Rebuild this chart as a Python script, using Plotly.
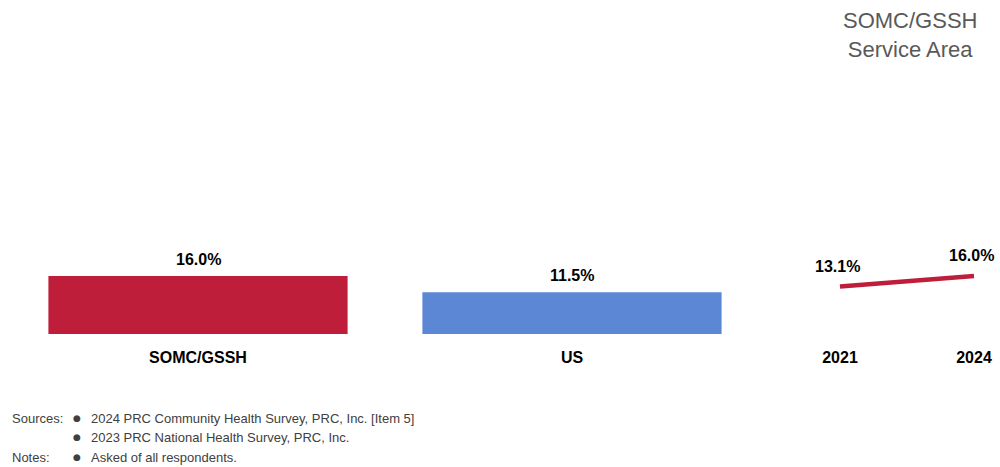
import plotly.graph_objects as go

# Data
bar_categories = ["SOMC/GSSH", "US"]
bar_values = [16.0, 11.5]
bar_colors = ["#BE1E3A", "#5B87D5"]

trend_years = ["2021", "2024"]
trend_values = [13.1, 16.0]
trend_color = "#BE1E3A"

title_text = "SOMC/GSSH<br>Service Area"
source_lines = [
    "2024 PRC Community Health Survey, PRC, Inc. [Item 5]",
    "2023 PRC National Health Survey, PRC, Inc.",
]
note_lines = ["Asked of all respondents."]

FONT = "Liberation Sans, Arial, sans-serif"

W, H = 1000, 467
zero_px = 334
px_per_unit = 3.625
y_top = zero_px / px_per_unit

fig = go.Figure()

fig.add_trace(go.Bar(
    x=bar_categories, y=bar_values,
    marker=dict(color=bar_colors, line=dict(width=0)),
    xaxis="x", yaxis="y", showlegend=False, hoverinfo="skip",
))

fig.add_trace(go.Scatter(
    x=trend_years, y=trend_values, mode="lines",
    line=dict(color=trend_color, width=4.5),
    xaxis="x2", yaxis="y", showlegend=False, hoverinfo="skip",
))

annotations = []
for i, v in enumerate(bar_values):
    annotations.append(dict(
        x=i, y=v, xref="x", yref="y", text=f"<b>{v:.1f}%</b>",
        showarrow=False, yanchor="bottom", yshift=6,
        font=dict(family=FONT, size=16, color="#000000"),
    ))
label_shift = [10, 10]
for i, (v, s) in enumerate(zip(trend_values, label_shift)):
    annotations.append(dict(
        x=i - 0.015, y=v, xref="x2", yref="y", text=f"<b>{v:.1f}%</b>",
        showarrow=False, yanchor="bottom", yshift=s,
        font=dict(family=FONT, size=16, color="#000000"),
    ))

annotations.append(dict(
    x=910 / W, y=1 - 6 / H, xref="paper", yref="paper", xanchor="center", yanchor="top",
    text=title_text, showarrow=False, align="center",
    font=dict(family=FONT, size=22, color="#595959"),
))

foot_font = dict(family=FONT, size=13, color="#404040")
rows = [("Sources:", source_lines[0]), ("", source_lines[1]), ("Notes:", note_lines[0])]
row_y = [418, 437, 457]
for (lab, txt), yy in zip(rows, row_y):
    if lab:
        annotations.append(dict(x=10 / W, y=1 - yy / H, xref="paper", yref="paper",
                                xanchor="left", yanchor="middle", text=lab,
                                showarrow=False, font=foot_font))
    annotations.append(dict(x=71 / W, y=1 - yy / H, xref="paper", yref="paper",
                            xanchor="left", yanchor="middle", text="●",
                            showarrow=False, font=dict(family="DejaVu Sans", size=9, color="#404040")))
    annotations.append(dict(x=89 / W, y=1 - yy / H, xref="paper", yref="paper",
                            xanchor="left", yanchor="middle", text=txt,
                            showarrow=False, font=foot_font))

tickfont = dict(family=FONT, size=16, color="#000000")

fig.update_layout(
    width=W, height=H,
    margin=dict(l=0, r=0, t=0, b=0),
    paper_bgcolor="white", plot_bgcolor="white",
    bargap=0.2,
    annotations=annotations,
    xaxis=dict(domain=[11 / W, 759 / W], range=[-0.5, 1.5], type="category",
               showgrid=False, zeroline=False, showline=False, ticks="",
               tickfont=tickfont, ticklabelstandoff=12, anchor="y",
               tickprefix="<b>", ticksuffix="</b>"),
    xaxis2=dict(domain=[780 / W, 1.0], range=[-0.4478, 1.194], type="category",
                showgrid=False, zeroline=False, showline=False, ticks="",
                tickfont=tickfont, ticklabelstandoff=12, anchor="y",
                tickprefix="<b>", ticksuffix="</b>"),
    yaxis=dict(domain=[(H - zero_px) / H, 1.0], range=[0, y_top], visible=False,
               showgrid=False, zeroline=False),
)

fig.write_html("out.html", config={"displayModeBar": False},
               post_script="document.body.style.margin='0';document.body.style.overflow='hidden';")
